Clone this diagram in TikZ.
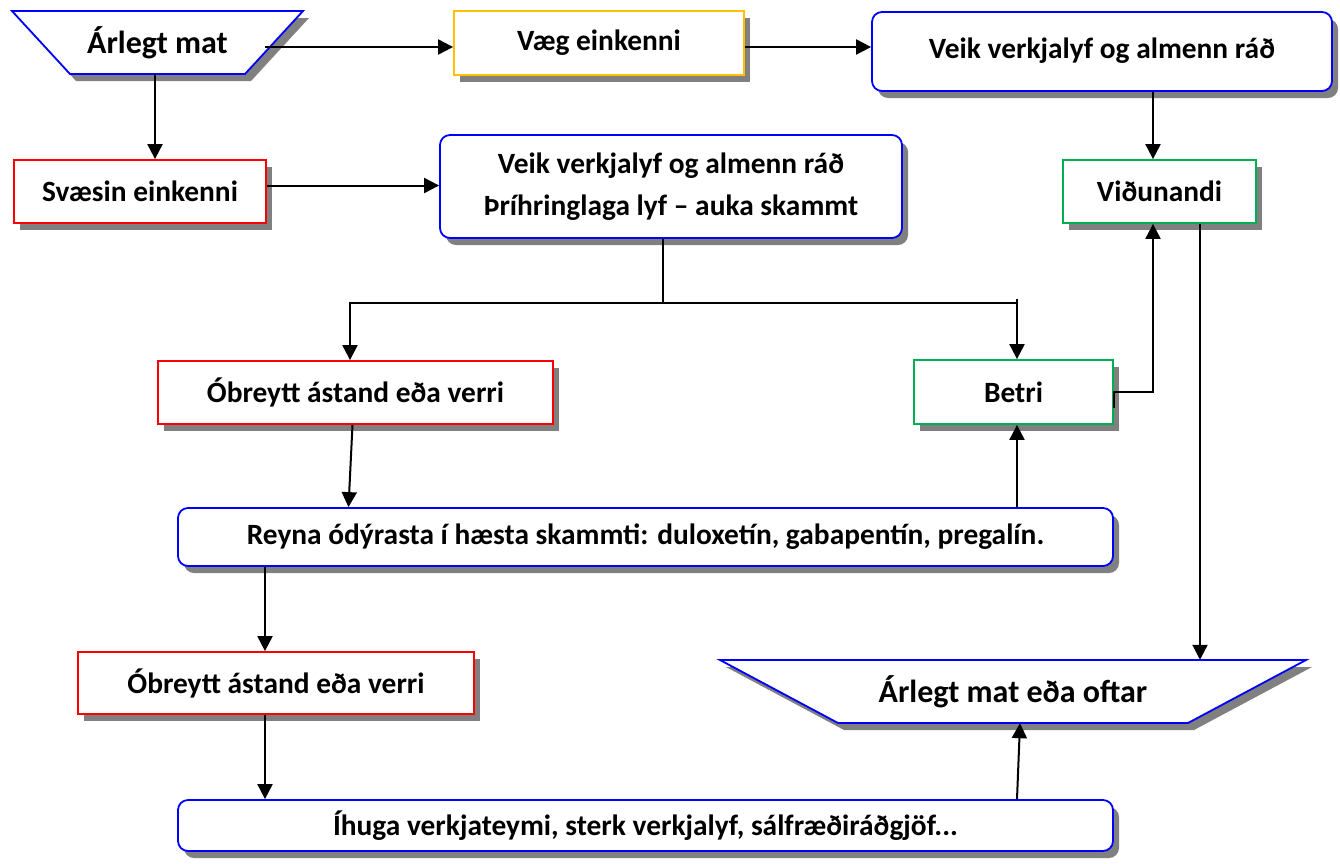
\documentclass[tikz,border=0pt]{standalone}
\usepackage{fontspec}
\setmainfont{Carlito}
\usetikzlibrary{shapes.geometric,shadows,arrows.meta,calc}
\definecolor{cblue}{RGB}{0,0,255}
\definecolor{cred}{RGB}{255,0,0}
\definecolor{cgreen}{RGB}{0,176,80}
\definecolor{cyellow}{RGB}{255,192,0}
\definecolor{cshadow}{RGB}{128,128,128}
\tikzset{
  shad/.style={drop shadow={shadow xshift=6pt,shadow yshift=-7pt,fill=cshadow,opacity=1}},
  boxbase/.style={draw,line width=1.8pt,fill=white,shad,inner sep=0pt,align=center,
     font=\fontsize{29.4}{36}\selectfont\bfseries},
  sqbox/.style={boxbase},
  rbox/.style={boxbase,draw=cblue,rounded corners=10pt},
  trapline/.style={draw=cblue,line width=1.8pt,fill=white,shad},
  traptext/.style={inner sep=0pt,align=center,font=\fontsize{32}{38}\selectfont\bfseries},
  arr/.style={line width=2pt,-{Triangle[length=15pt,width=15pt]}},
  ln/.style={line width=2pt}
}
\begin{document}
\begin{tikzpicture}[x=1pt,y=-1pt]
\useasboundingbox (0,0) rectangle (1340,863);
% trapezoid outlines
\path[trapline] (12,11) -- (303,11) -- (245,74) -- (70,74) -- cycle;
\path[trapline] (720,660) -- (1306,660) -- (1188,723) -- (838,723) -- cycle;
% nodes
\node[traptext,minimum width=291pt,minimum height=63pt] (am) at (157.5,42.5) {Árlegt mat};
\node[sqbox,draw=cyellow,minimum width=290pt,minimum height=64pt] (vaeg) at (599,43) {Væg einkenni};
\node[rbox,minimum width=460pt,minimum height=79pt] (veik1) at (1102,51.5) {\raisebox{6pt}{Veik verkjalyf og almenn ráð}};
\node[sqbox,draw=cred,minimum width=252pt,minimum height=63pt] (svaesin) at (140,191.5) {Svæsin einkenni};
\node[rbox,minimum width=462pt,minimum height=103pt] (veik2) at (671,186.5) {Veik verkjalyf og almenn ráð\\[6pt]Þríhringlaga lyf – auka skammt};
\node[sqbox,draw=cgreen,minimum width=193pt,minimum height=63pt] (vid) at (1159.5,191.5) {Viðunandi};
\node[sqbox,draw=cred,minimum width=395pt,minimum height=63pt] (ob1) at (355.5,392.5) {Óbreytt ástand eða verri};
\node[sqbox,draw=cgreen,minimum width=199pt,minimum height=64pt] (betri) at (1013.5,392) {Betri};
\node[rbox,minimum width=935pt,minimum height=58pt] (reyna) at (645.5,537) {Reyna ódýrasta í hæsta skammti: duloxetín, gabapentín, pregalín.};
\node[sqbox,draw=cred,minimum width=396pt,minimum height=62pt] (ob2) at (276,683) {Óbreytt ástand eða verri};
\node[traptext,minimum width=586pt,minimum height=63pt] (am2) at (1013,691.5) {Árlegt mat eða oftar};
\node[rbox,minimum width=935pt,minimum height=51pt] (ihuga) at (645.5,825.5) {Íhuga verkjateymi, sterk verkjalyf, sálfræðiráðgjöf...};
% connectors
\coordinate (amR) at (265,47);
\coordinate (bt) at (1017,299);
\coordinate (split) at (663,303);
\draw[arr] (amR) -- (amR -| vaeg.west);
\draw[arr] ([xshift=-2.5pt]am.south) -- ([xshift=-2.5pt]am.south |- svaesin.north);
\draw[arr] ([yshift=-4pt]vaeg.east) -- ([yshift=-4pt]vaeg.east -| veik1.west);
\draw[arr] ([xshift=-6.5pt]vid.north |- veik1.south) -- ([xshift=-6.5pt]vid.north);
\draw[arr] ([yshift=6pt]svaesin.east) -- ([yshift=6pt]svaesin.east -| veik2.west);
\draw[ln] ([xshift=-8pt]veik2.south) -- (split);
\draw[arr] (split) -| ([xshift=-5.5pt]ob1.north);
\draw[ln] (split) -- (split -| bt);
\draw[arr] (bt) -- (bt |- betri.north);
\draw[arr] ([xshift=-3pt]ob1.south) -- ([xshift=-7pt]ob1.south |- reyna.north);
\draw[arr] (bt |- reyna.north) -- (bt |- betri.south);
\draw[arr] ([yshift=-16pt]betri.east) -- (betri.east) -| ([xshift=-6.5pt]vid.south);
\draw[arr] ([xshift=40.5pt]vid.south) -- ([xshift=40.5pt]vid.south |- am2.north);
\draw[arr] ([xshift=-11pt]ob2.north |- reyna.south) -- ([xshift=-11pt]ob2.north);
\draw[arr] ([xshift=-11pt]ob2.south) -- ([xshift=-11pt]ob2.south |- ihuga.north);
\draw[arr] ([xshift=371.5pt]ihuga.north) -- ([xshift=7pt]am2.south);
\end{tikzpicture}
\end{document}
